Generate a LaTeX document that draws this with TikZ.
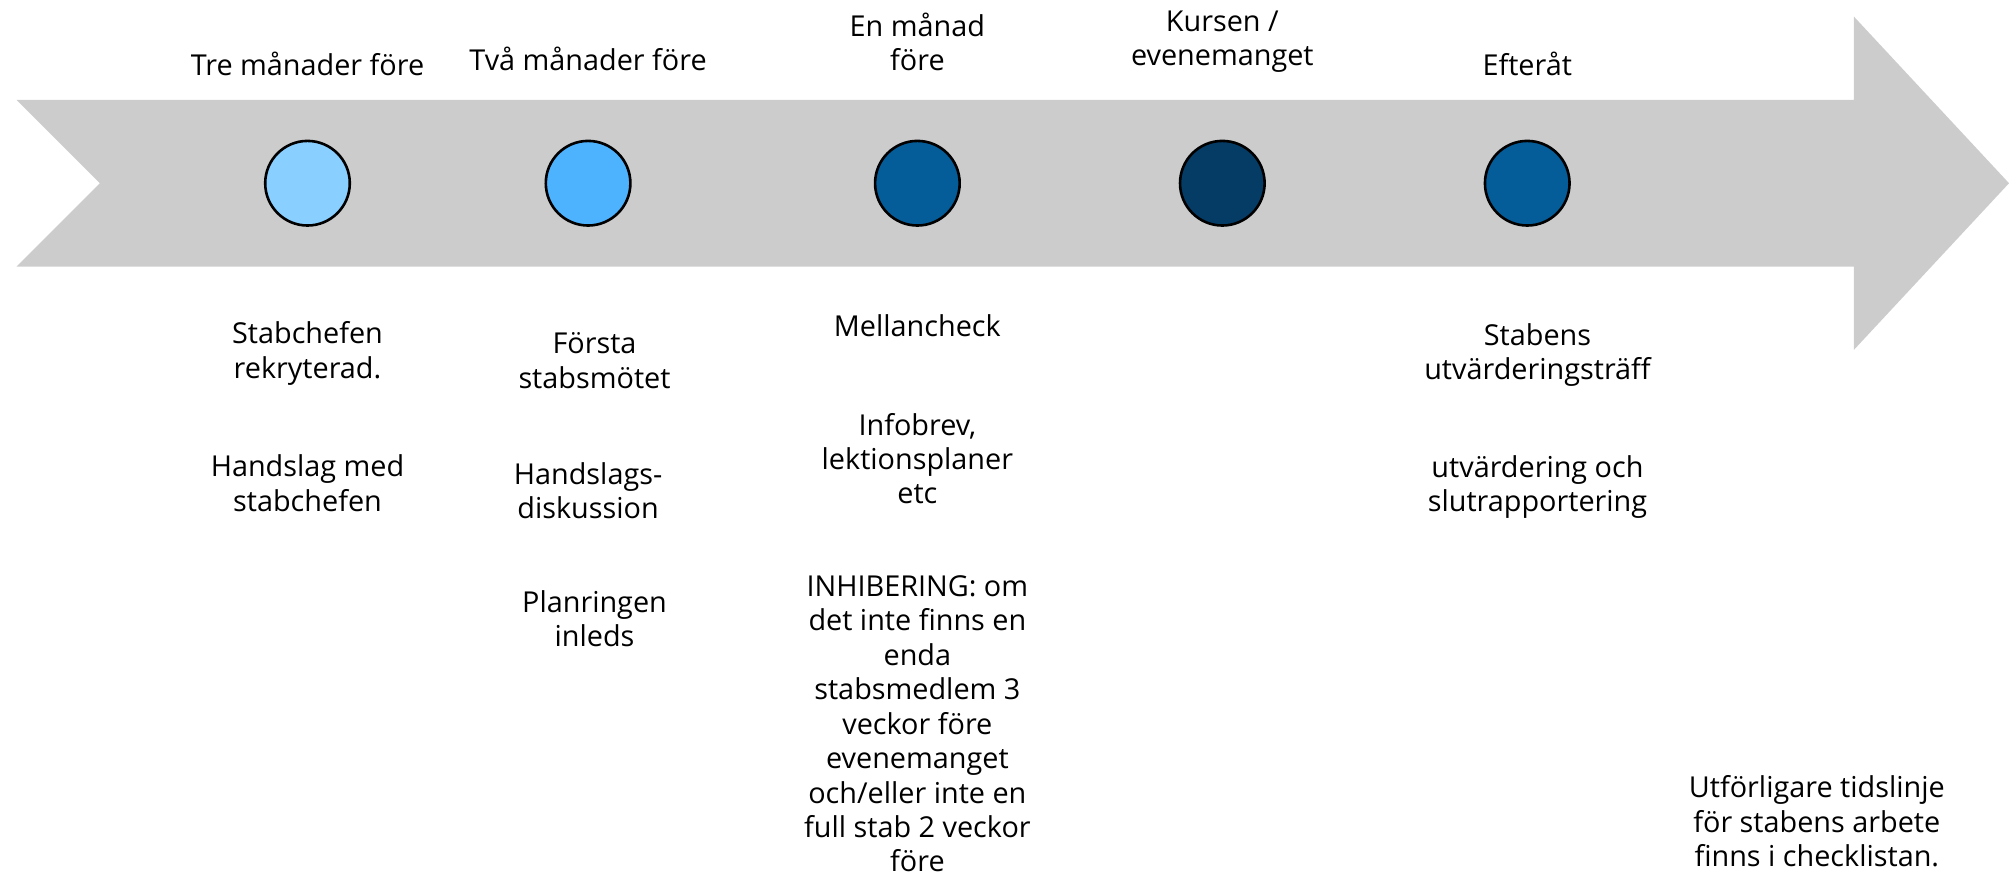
\documentclass[tikz,border=0pt]{standalone}
\usepackage{fontspec}
\setmainfont{Open Sans}
\definecolor{arrowgray}{HTML}{CCCCCC}
\definecolor{dotA}{HTML}{89CFFF}
\definecolor{dotB}{HTML}{4DB3FF}
\definecolor{dotC}{HTML}{045C98}
\definecolor{dotD}{HTML}{043C66}
\tikzset{
  dot/.style={circle, draw=black, line width=1.3pt, minimum size=42.3pt, inner sep=0pt},
  lbl/.style={align=center, font=\fontsize{14.4}{17.2}\selectfont, inner sep=0pt},
}
\begin{document}
\begin{tikzpicture}[x=0.6406pt,y=-0.6406pt]
  \useasboundingbox (0,0) rectangle (1568,683);
  % the arrow
  \fill[arrowgray] (13,78) -- (1447,78) -- (1447,13) -- (1568,143) -- (1447,273)
    -- (1447,208) -- (13,208) -- (78,143) -- cycle;

  % the dots
  \foreach \name/\x/\col in {tre/240/dotA, tva/459/dotB, en/716/dotC, kurs/954/dotD, efter/1192/dotC}
    \node[dot, fill=\col] (\name) at (\x,143) {};

  % above the arrow
  \node[lbl] (treTop) at (240,50) {Tre månader före};
  \node[lbl] (tvaTop) at (459,46) {Två månader före};
  \node[lbl] (enTop) at (716,32.5) {En månad\\före};
  \node[lbl] (kursTop) at (954,32.5) {Kursen /\\evenemanget};
  \node[lbl] (efterTop) at (1192,50) {Efteråt};

  % below the arrow
  \node[lbl] (treA) at (240,276) {Stabchefen\\rekryterad.};
  \node[lbl] (treB) at (240,377) {Handslag med\\stabchefen};
  \node[lbl] (tvaA) at (464,281.5) {Första\\stabsmötet};
  \node[lbl] (tvaB) at (459,383) {Handslags-\\diskussion};
  \node[lbl] (tvaC) at (464,483) {Planringen\\inleds};
  \node[lbl] (enA) at (716,254) {Mellancheck};
  \node[lbl] (enB) at (716,358) {Infobrev,\\lektionsplaner\\etc};
  \node[lbl] (enC) at (716,565) {INHIBERING: om\\det inte finns en\\enda\\stabsmedlem 3\\veckor före\\evenemanget\\och/eller inte en\\full stab 2 veckor\\före};
  \node[lbl] (efterA) at (1200,277) {Stabens\\utvärderingsträff};
  \node[lbl] (efterB) at (1200,380) {utvärdering och\\slutrapportering};
  \node[lbl] (note) at (1418,641) {Utförligare tidslinje\\för stabens arbete\\finns i checklistan.};
\end{tikzpicture}
\end{document}
